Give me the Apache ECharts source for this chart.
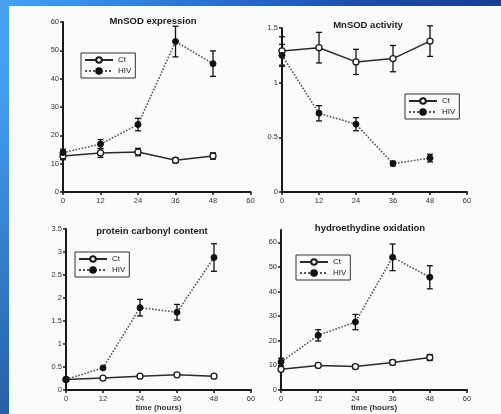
<!DOCTYPE html>
<html><head><meta charset="utf-8">
<script src="https://cdn.jsdelivr.net/npm/echarts@6/dist/echarts.min.js"></script>
<style>
html,body{margin:0;padding:0;width:501px;height:414px;overflow:hidden;}
body{position:relative;background:
 linear-gradient(to bottom, rgba(0,0,0,0) 20%, rgba(8,25,90,0.45) 100%),
 linear-gradient(95deg,#45a3f2 0%,#2c74d8 35%,#1d4aa6 70%,#173b8c 100%);}
#panel{position:absolute;left:9px;top:6px;right:0;bottom:0;background:#fbfbfb;}
#chart{position:absolute;left:0;top:0;width:501px;height:414px;}
</style></head>
<body>
<div id="panel"></div>
<div id="chart"></div>
<script>
const hours = [0, 12, 24, 36, 48];
const xTicks = [0, 12, 24, 36, 48, 60];
const titles = ['MnSOD expression', 'MnSOD activity', 'protein carbonyl content', 'hydroethydine oxidation'];
const seriesNames = ['Ct', 'HIV'];

const expCt = [12.7, 13.8, 14.1, 11.2, 12.7];
const expCtErr = [1.3, 1.6, 1.3, 0.9, 1.1];
const expHiv = [13.9, 16.9, 23.8, 53.1, 45.3];
const expHivErr = [1.2, 1.6, 2.2, 5.4, 4.5];

const actCt = [1.29, 1.32, 1.19, 1.22, 1.38];
const actCtErr = [0.13, 0.14, 0.115, 0.12, 0.14];
const actHiv = [1.25, 0.72, 0.62, 0.26, 0.31];
const actHivErr = [0.1, 0.07, 0.06, 0.02, 0.035];

const carbCt = [0.23, 0.26, 0.30, 0.33, 0.30];
const carbCtErr = [0.02, 0.02, 0.03, 0.03, 0.03];
const carbHiv = [0.23, 0.48, 1.79, 1.69, 2.88];
const carbHivErr = [0.03, 0.03, 0.18, 0.17, 0.30];

const heCt = [8.4, 10.0, 9.5, 11.2, 13.2];
const heCtErr = [0.8, 0.8, 0.8, 0.9, 1.2];
const heHiv = [11.4, 22.2, 27.6, 53.9, 45.8];
const heHivErr = [1.5, 2.3, 3.1, 5.4, 4.7];

const yMax = [60, 1.5, 3.5, 65];
const yInterval = [10, 0.5, 0.5, 10];
const yTickValues = [
  [0, 10, 20, 30, 40, 50, 60],
  [0, 0.5, 1, 1.5],
  [0, 0.5, 1, 1.5, 2, 2.5, 3, 3.5],
  [0, 10, 20, 30, 40, 50, 60]
];

const panels = [
  {ct: expCt, ctErr: expCtErr, hiv: expHiv, hivErr: expHivErr},
  {ct: actCt, ctErr: actCtErr, hiv: actHiv, hivErr: actHivErr},
  {ct: carbCt, ctErr: carbCtErr, hiv: carbHiv, hivErr: carbHivErr},
  {ct: heCt, ctErr: heCtErr, hiv: heHiv, hivErr: heHivErr}
];

const grids = [
  {left: 63, top: 22, width: 187.5, height: 170},
  {left: 282, top: 28, width: 185, height: 164},
  {left: 66, top: 229, width: 185, height: 161},
  {left: 281, top: 230, width: 186, height: 160}
];
const titlePos = [[153, 21], [368, 25], [152, 231], [370, 228]];
const legendPos = [[81, 53], [405, 94], [75, 252], [296, 255]];

const FONT = 'Liberation Sans, Arial, sans-serif';
const AX = '#1a1a1a';

const chart = echarts.init(document.getElementById('chart'), null, {renderer: 'canvas'});

function errSeries(gi, vals, errs) {
  return {
    type: 'custom', xAxisIndex: gi, yAxisIndex: gi, z: 1, silent: true,
    data: hours.map((h, i) => [h, vals[i], errs[i]]),
    renderItem: function (params, api) {
      const x = api.value(0), v = api.value(1), e = api.value(2);
      const p1 = api.coord([x, v + e]);
      const p2 = api.coord([x, v - e]);
      const w = 3;
      const st = {stroke: '#111', lineWidth: 1.3};
      return {type: 'group', children: [
        {type: 'line', shape: {x1: p1[0], y1: p1[1], x2: p2[0], y2: p2[1]}, style: st},
        {type: 'line', shape: {x1: p1[0] - w, y1: p1[1], x2: p1[0] + w, y2: p1[1]}, style: st},
        {type: 'line', shape: {x1: p2[0] - w, y1: p2[1], x2: p2[0] + w, y2: p2[1]}, style: st}
      ]};
    }
  };
}

const option = {
  animation: false,
  backgroundColor: 'transparent',
  textStyle: {fontFamily: FONT},
  grid: grids.map(g => Object.assign({containLabel: false}, g)),
  xAxis: grids.map((g, i) => ({
    gridIndex: i, type: 'value', min: 0, max: 60, interval: 12,
    name: i >= 2 ? 'time (hours)' : '', nameLocation: 'middle', nameGap: 12,
    nameTextStyle: {fontSize: 8, fontWeight: 'bold', color: '#333', fontFamily: FONT},
    axisLine: {show: true, onZero: false, lineStyle: {color: AX, width: 2}},
    axisTick: {show: true, length: 3, lineStyle: {color: AX, width: 1.5}},
    axisLabel: {fontSize: 7.5, color: '#333', margin: 5, fontFamily: FONT, showMaxLabel: true},
    splitLine: {show: false}
  })),
  yAxis: grids.map((g, i) => ({
    gridIndex: i, type: 'value', min: 0, max: yMax[i], interval: yInterval[i],
    axisLine: {show: true, onZero: false, lineStyle: {color: AX, width: 2}},
    axisTick: {show: true, length: 3, lineStyle: {color: AX, width: 1.5}, customValues: yTickValues[i]},
    axisLabel: {fontSize: 7.5, color: '#333', margin: 4, fontFamily: FONT, customValues: yTickValues[i],
      formatter: v => (yTickValues[i].indexOf(v) >= 0 ? String(v) : '')},
    splitLine: {show: false}
  })),
  legend: legendPos.map(p => ({
    data: seriesNames, orient: 'vertical', left: p[0], top: p[1],
    padding: [3, 4, 3, 3], itemGap: 3, itemWidth: 28, itemHeight: 7,
    borderColor: '#333', borderWidth: 1, backgroundColor: '#fbfbfb',
    textStyle: {fontSize: 8, color: '#222', fontFamily: FONT},
    selectedMode: false
  })),
  graphic: titles.map((t, i) => ({
    type: 'text', x: titlePos[i][0], y: titlePos[i][1], z: 100,
    style: {text: t, align: 'center', verticalAlign: 'middle',
      font: 'bold 9.5px ' + FONT, fill: '#1a1a1a'}
  })),
  series: []
};

panels.forEach((p, i) => {
  option.series.push(errSeries(i, p.ct, p.ctErr));
  option.series.push(errSeries(i, p.hiv, p.hivErr));
  option.series.push({
    name: 'Ct', type: 'line', xAxisIndex: i, yAxisIndex: i, z: 3,
    data: hours.map((h, k) => [h, p.ct[k]]),
    symbol: 'circle', symbolSize: 6,
    itemStyle: {color: '#ffffff', borderColor: '#1a1a1a', borderWidth: 1.3},
    lineStyle: {color: '#2a2a2a', width: 1.5, type: 'solid'}
  });
  option.series.push({
    name: 'HIV', type: 'line', xAxisIndex: i, yAxisIndex: i, z: 4,
    data: hours.map((h, k) => [h, p.hiv[k]]),
    symbol: 'circle', symbolSize: 6,
    itemStyle: {color: '#111111', borderColor: '#111111', borderWidth: 1},
    lineStyle: {color: '#555555', width: 1.6, type: 'dotted'}
  });
});

chart.setOption(option);
</script>
</body></html>
